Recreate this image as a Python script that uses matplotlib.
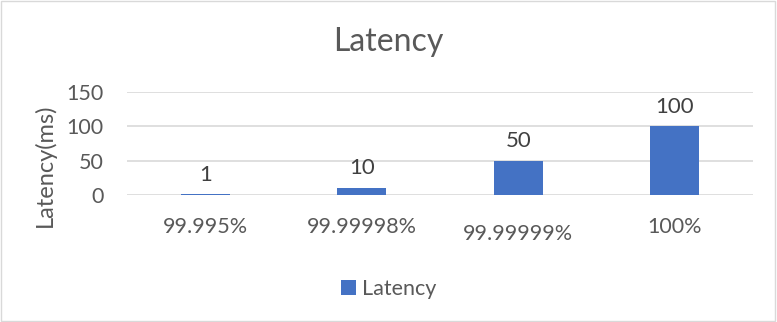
import numpy as np
import matplotlib.pyplot as plt
from matplotlib.patches import Rectangle

categories = ['99.995%', '99.99998%', '99.99999%', '100%']
latency = [1, 10, 50, 100]
yticks = [0, 50, 100, 150]

plt.rcParams['font.family'] = ['Lato', 'DejaVu Sans']
txt = '#595959'
blue = '#4472C4'

fig = plt.figure(figsize=(7.77, 3.22), dpi=100)
ax = fig.add_axes([127 / 777, 1 - 195 / 322, (753 - 127) / 777, (195 - 92) / 322])

x = np.arange(len(categories))
bars = ax.bar(x, latency, width=0.313, color=blue, label='Latency', zorder=3)
for xi, v in zip(x, latency):
    ax.annotate(str(v), (xi, v), xytext=(0, 7), textcoords='offset points',
                ha='center', va='bottom', fontsize=16, color='#404040')

ax.set_xlim(-0.5, len(categories) - 0.5)
ax.set_ylim(0, 150)
ax.set_yticks(yticks)
ax.set_xticks(x)
ax.set_xticklabels(categories)
ax.tick_params(axis='both', length=0, labelsize=15.5, labelcolor=txt)
ax.tick_params(axis='x', pad=16)
ax.tick_params(axis='y', pad=17)
# third label sits a little lower in the original
ax.get_xticklabels()[2].set_y(-0.07)
ax.yaxis.grid(True, color='#D9D9D9', linewidth=1.2, zorder=0)
for s in ax.spines.values():
    s.set_visible(False)

fig.text(45 / 777, 1 - 165 / 322, 'Latency(ms)', rotation=90, ha='center', va='center',
         fontsize=17, color=txt)
fig.text(0.5, 1 - 42 / 322, 'Latency', ha='center', va='center', fontsize=23, color=txt)

fig.legend(handles=[bars], labels=['Latency'], loc='center', bbox_to_anchor=(0.5, 1 - 289 / 322),
           frameon=False, fontsize=15.5, labelcolor=txt, handlelength=0.7, handleheight=0.7,
           handletextpad=0.3)

fig.patches.append(Rectangle((0.001, 0.002), 0.997, 0.995, transform=fig.transFigure,
                             fill=False, edgecolor='#D9D9D9', linewidth=1))

fig.savefig('out.png', dpi=100)
